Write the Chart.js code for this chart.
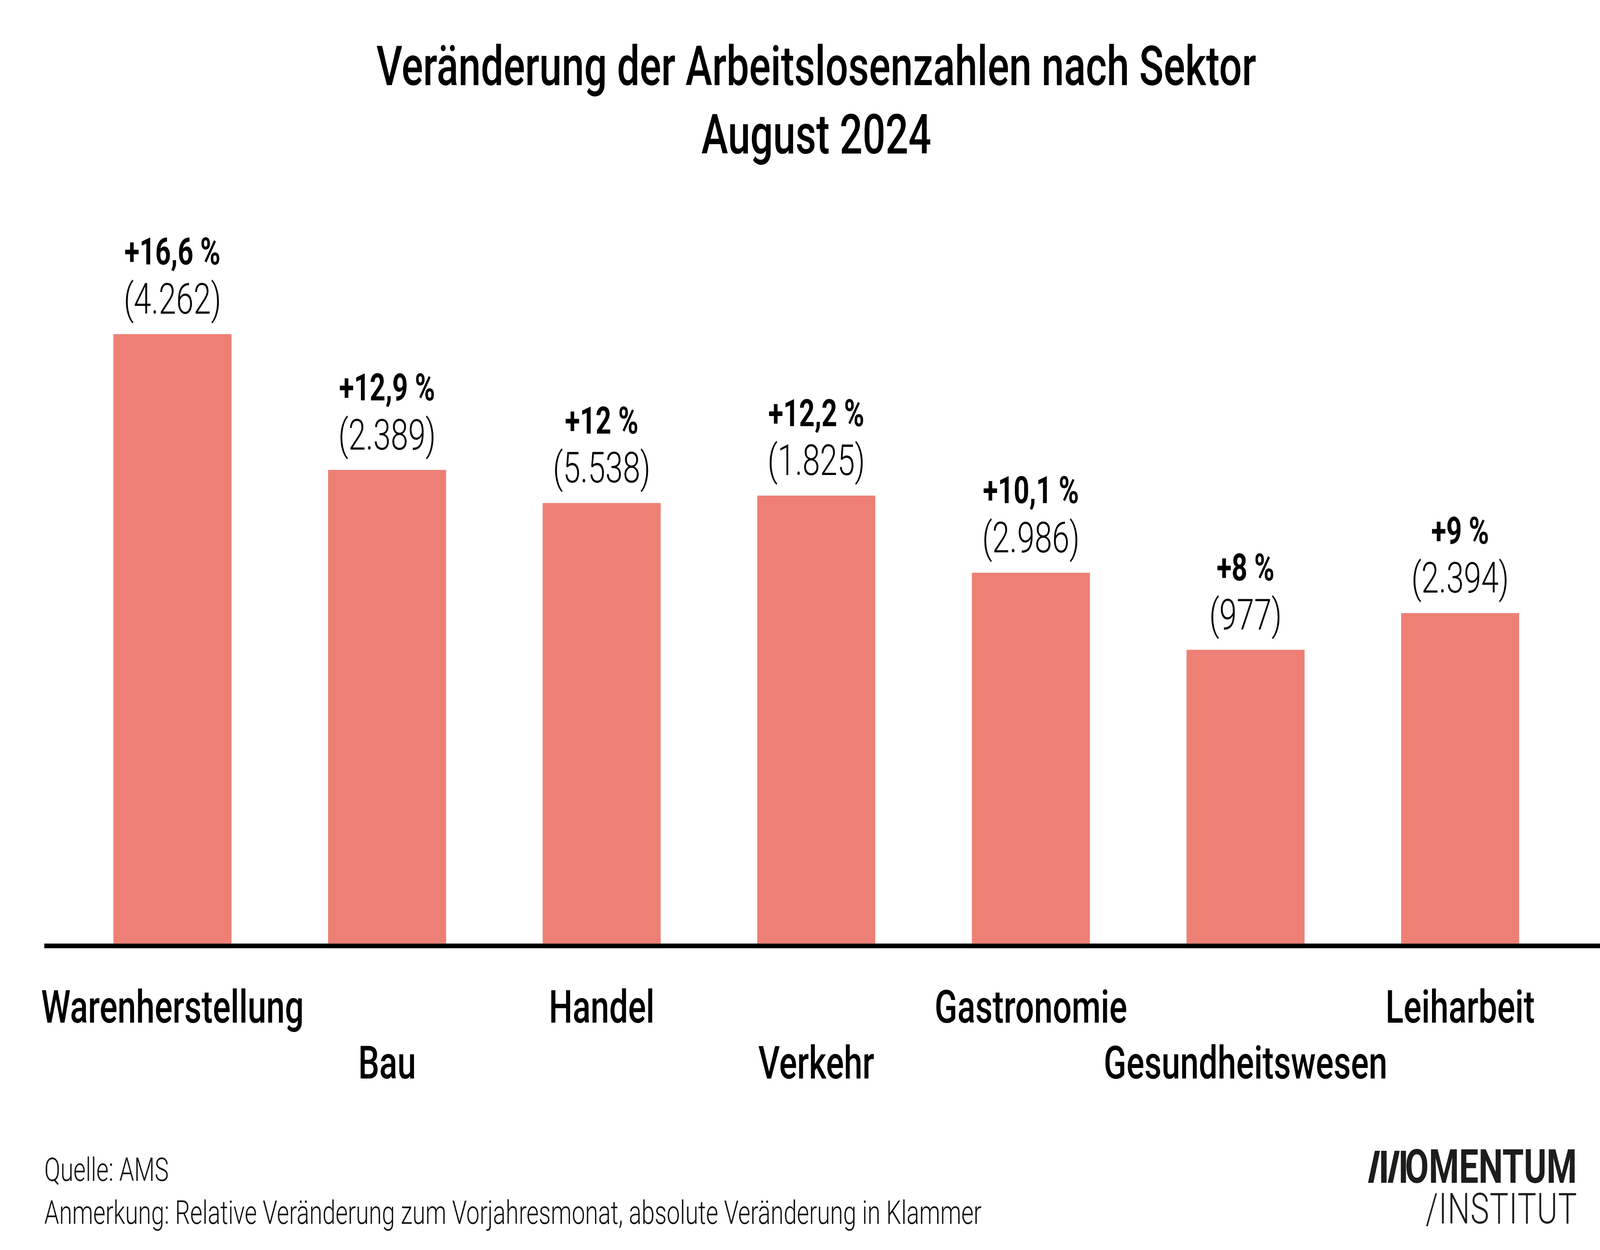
<!DOCTYPE html>
<html lang="de">
<head>
<meta charset="utf-8">
<title>Veränderung der Arbeitslosenzahlen nach Sektor</title>
<script src="https://cdn.jsdelivr.net/npm/chart.js@4.4.1/dist/chart.umd.min.js"></script>
<style>
  html, body { margin: 0; padding: 0; background: #fff; overflow: hidden; }
</style>
</head>
<body>
<canvas id="chart" width="5600" height="3200" style="display:block;width:100vw;height:100vh"></canvas>
<script>
// Sektoren
const sectors = ['Warenherstellung', 'Bau', 'Handel', 'Verkehr', 'Gastronomie', 'Gesundheitswesen', 'Leiharbeit'];
// relative Veränderung zum Vorjahresmonat (%)
const changePct = [16.6, 12.9, 12, 12.2, 10.1, 8, 9];
// absolute Veränderung
const changeAbs = [4262, 2389, 5538, 1825, 2986, 977, 2394];

const titleLines = ['Veränderung der Arbeitslosenzahlen nach Sektor', 'August 2024'];
const sourceText = 'Quelle: AMS';
const noteText = 'Anmerkung: Relative Veränderung zum Vorjahresmonat, absolute Veränderung in Klammer';

const barColor = '#ee7f75';

const fmtPct = v => '+' + String(v).replace('.', ',') + ' %';
const fmtAbs = v => String(v).replace(/\B(?=(\d{3})+(?!\d))/g, '.');

// schwarze Grundlinie, etwas breiter als die Plotfläche
const baseLine = {
  id: 'baseLine',
  afterDatasetsDraw(chart) {
    const ctx = chart.ctx;
    const y = chart.scales.y.getPixelForValue(0);
    ctx.save();
    ctx.fillStyle = '#000';
    ctx.fillRect(155, y, chart.width - 155, 12);
    ctx.restore();
  }
};

// Beschriftung über den Balken
const barLabels = {
  id: 'barLabels',
  afterDatasetsDraw(chart) {
    const ctx = chart.ctx;
    const bars = chart.getDatasetMeta(0).data;
    ctx.save();
    ctx.textAlign = 'center';
    ctx.textBaseline = 'middle';
    ctx.fillStyle = '#000';
    bars.forEach((bar, i) => {
      ctx.font = '700 96px Roboto';
      ctx.fillText(fmtPct(changePct[i]), bar.x, bar.y - 202);
      ctx.font = '300 110px Roboto';
      ctx.fillText('(' + fmtAbs(changeAbs[i]) + ')', bar.x, bar.y - 80);
    });
    ctx.restore();
  }
};

// Quelle, Anmerkung und Logo
const footer = {
  id: 'footer',
  afterDraw(chart) {
    const ctx = chart.ctx;
    ctx.save();
    ctx.fillStyle = '#111';
    ctx.textAlign = 'left';
    ctx.textBaseline = 'middle';
    ctx.font = '300 83px Roboto';
    ctx.fillText(sourceText, 155, 3002);
    ctx.fillText(noteText, 155, 3112);

    // Logo
    ctx.fillStyle = '#1d1d1b';
    const top = 2946, bot = 3028;
    ctx.beginPath();
    ctx.moveTo(4788, bot); ctx.lineTo(4807, bot); ctx.lineTo(4830, top); ctx.lineTo(4812, top); ctx.closePath();
    ctx.moveTo(4857, bot); ctx.lineTo(4875, bot); ctx.lineTo(4899, top); ctx.lineTo(4881, top); ctx.closePath();
    ctx.fill();
    ctx.fillRect(4834, top, 19, bot - top);
    ctx.fillRect(4903, top, 18, bot - top);
    ctx.textAlign = 'right';
    ctx.textBaseline = 'alphabetic';
    ctx.font = '700 121px Roboto';
    ctx.fillText('OMENTUM', 5519, bot);
    ctx.font = '300 110px Roboto';
    ctx.letterSpacing = '2px';
    ctx.fillText('/INSTITUT', 5521, 3132);
    ctx.restore();
  }
};

Chart.defaults.font.family = 'Roboto';
Chart.defaults.color = '#000';

new Chart(document.getElementById('chart'), {
  type: 'bar',
  data: {
    labels: sectors,
    datasets: [{
      data: changePct,
      backgroundColor: barColor,
      borderWidth: 0,
      barPercentage: 0.55,
      categoryPercentage: 1
    }]
  },
  options: {
    responsive: false,
    devicePixelRatio: 1,
    animation: false,
    layout: { padding: { top: 95, left: 228, right: 114, bottom: 295 } },
    plugins: {
      legend: { display: false },
      tooltip: { enabled: false },
      title: {
        display: true,
        text: titleLines,
        fullSize: false,
        color: '#000',
        font: { size: 141, weight: '500', lineHeight: 1.24 },
        padding: { top: 0, bottom: 279 }
      }
    },
    scales: {
      x: {
        grid: { display: false, drawTicks: false },
        border: { display: false },
        ticks: {
          autoSkip: false,
          maxRotation: 0,
          minRotation: 0,
          padding: 102,
          color: '#000',
          font: { size: 117, weight: '500', lineHeight: 1.22 },
          callback: (v, i) => i % 2 ? ['', sectors[i]] : sectors[i]
        }
      },
      y: {
        display: false,
        min: 0,
        max: 18
      }
    }
  },
  plugins: [baseLine, barLabels, footer]
});
</script>
</body>
</html>
